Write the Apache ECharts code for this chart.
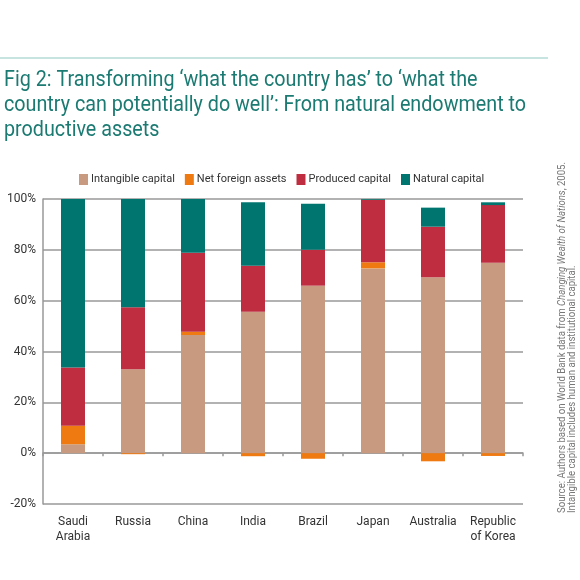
<!DOCTYPE html>
<html><head><meta charset="utf-8">
<script src="https://cdn.jsdelivr.net/npm/echarts@6/dist/echarts.min.js"></script>
<style>html,body{margin:0;padding:0;background:#fff}#c{width:580px;height:580px}</style>
</head><body><div id="c"></div>
<script>
const categories = ['Saudi\nArabia','Russia','China','India','Brazil','Japan','Australia','Republic\nof Korea'];
const intangible = [3.5, 33.0, 46.5, 55.6, 65.9, 72.7, 69.2, 74.9];
const netForeign = [7.3, -0.4, 1.3, -1.2, -2.2, 2.4, -3.2, -1.1];
const produced   = [22.9, 24.4, 31.1, 18.1, 14.1, 24.6, 19.9, 22.7];
const natural    = [66.3, 42.6, 21.1, 25.0, 18.1, 0.3, 7.5, 1.1];
const yTicks = [-20, 0, 20, 40, 60, 80, 100];
const seriesNames = ['Intangible capital','Net foreign assets','Produced capital','Natural capital'];
const colors = ['#C89B80','#F07A12','#BE2E40','#00756F'];
const titleLines = [
  'Fig 2: Transforming \u2018what the country has\u2019 to \u2018what the',
  'country can potentially do well\u2019: From natural endowment to',
  'productive assets'
];
const source1 = ['Source: Authors based on World Bank data from ', 'Changing Wealth of Nations', ', 2005.'];
const source2 = 'Intangible capital includes human and institutional capital.';

const FONT = 'Roboto, "Liberation Sans", sans-serif';
const ctx = document.createElement('canvas').getContext('2d');
function measure(font, t) { ctx.font = font; return ctx.measureText(t).width; }
const titleFont = '22px ' + FONT;
const titleScale = 522 / measure(titleFont, titleLines[1]);
const srcFont = '11px ' + FONT, srcItal = 'italic 11px ' + FONT;
const srcLen = measure(srcFont, source1[0]) + measure(srcItal, source1[1]) + measure(srcFont, source1[2]);
const srcScale = 351 / srcLen;

const chart = echarts.init(document.getElementById('c'));
const data = [intangible, netForeign, produced, natural];
const graphics = [
  {type: 'line', shape: {x1: 0, y1: 58, x2: 548, y2: 58}, style: {stroke: '#8FC9C3', lineWidth: 1}}
];
titleLines.forEach((t, i) => graphics.push({
  type: 'text', x: 4, y: 80 + i * 25, scaleX: titleScale,
  style: {text: t, font: titleFont, fill: '#1B7A72', textAlign: 'left', textVerticalAlign: 'middle'}
}));
graphics.push({type: 'text', x: 562, y: 513, rotation: Math.PI/2, scaleX: srcScale, style: {
  rich: {n: {font: srcFont, fill: '#777'}, i: {font: srcItal, fill: '#777'}},
  text: '{n|' + source1[0] + '}{i|' + source1[1] + '}{n|' + source1[2] + '}',
  textAlign: 'left', textVerticalAlign: 'middle'}});
graphics.push({type: 'text', x: 572, y: 513, rotation: Math.PI/2, scaleX: srcScale, style: {
  text: source2, font: srcFont, fill: '#777', textAlign: 'left', textVerticalAlign: 'middle'}});

chart.setOption({
  animation: false,
  color: colors,
  textStyle: {fontFamily: FONT},
  grid: {left: 43, right: 57, top: 199, bottom: 76, containLabel: false},
  legend: {
    data: seriesNames, top: 169, left: 74, itemWidth: 9, itemHeight: 11, itemGap: 10,
    icon: 'rect',
    textStyle: {fontFamily: FONT, fontSize: 11, color: '#333', padding: [0,0,0,-2]}
  },
  xAxis: {
    type: 'category', data: categories,
    axisLine: {onZero: true, lineStyle: {color: '#999', width: 1.5}},
    axisTick: {show: true, length: 3, lineStyle: {color: '#999', width: 1.5}},
    axisLabel: {interval: 0, fontFamily: FONT, fontSize: 12, color: '#333', margin: 10, lineHeight: 15}
  },
  yAxis: {
    type: 'value', min: yTicks[0], max: yTicks[yTicks.length-1], interval: 20,
    axisLine: {show: true, lineStyle: {color: '#999', width: 1.5}},
    axisTick: {show: false},
    splitLine: {lineStyle: {color: '#999', width: 1.5}},
    axisLabel: {formatter: '{value}%', fontFamily: FONT, fontSize: 12, color: '#333', margin: 7}
  },
  series: seriesNames.map((n, i) => ({
    name: n, type: 'bar', stack: 'total', data: data[i], barWidth: 24,
    itemStyle: {color: colors[i]}
  })),
  graphic: graphics
});
</script></body></html>
